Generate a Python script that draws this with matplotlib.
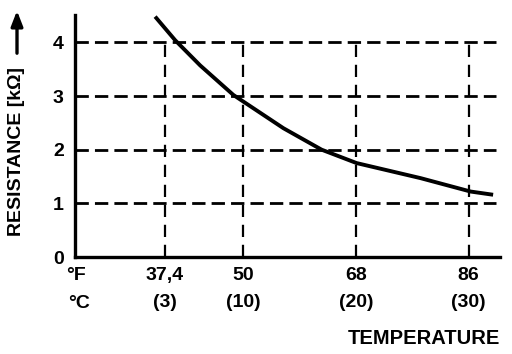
import matplotlib
matplotlib.use("Agg")
import matplotlib.pyplot as plt

# thermistor curve (deg F -> kOhm)
curve_f = [35.9, 39.1, 43.1, 48.4, 56.4, 62.5, 68.1, 78.3, 86.3, 89.9]
curve_r = [4.48, 4.04, 3.57, 3.02, 2.40, 2.0, 1.75, 1.47, 1.22, 1.16]

temp_f_ticks = [37.4, 50, 68, 86]
temp_f_labels = ["37,4", "50", "68", "86"]
temp_c_labels = ["(3)", "(10)", "(20)", "(30)"]
res_ticks = [0, 1, 2, 3, 4]
res_grid = [1, 2, 3, 4]

plt.rcParams['font.family'] = ['Liberation Sans', 'DejaVu Sans']
plt.rcParams['font.weight'] = 'bold'

fig = plt.figure(figsize=(5.12, 3.54), dpi=100)
ax = fig.add_axes([75 / 512, 97 / 354, 425 / 512, 242 / 354])

ax.set_xlim(23.1, 91.0)
ax.set_ylim(0, 4.51)

# dashed grid
ax.hlines(res_grid, 23.1, 90.3, colors='black', linewidth=2.0,
          linestyles=(0, (4.8, 2.2)))
ax.vlines(temp_f_ticks, 0, 4, colors='black', linewidth=1.6,
          linestyles=(0, (5.5, 3.5)))

ax.plot(curve_f, curve_r, color='black', linewidth=2.8,
        solid_capstyle='butt', solid_joinstyle='round')

for s in ['top', 'right']:
    ax.spines[s].set_visible(False)
for s in ['left', 'bottom']:
    ax.spines[s].set_linewidth(2.4)

ax.set_xticks([])
ax.set_yticks(res_ticks)
ax.set_yticklabels([str(v) for v in res_ticks], fontsize=14, fontweight='bold')
ax.tick_params(axis='y', length=0, pad=8)

trans = ax.get_xaxis_transform()
for f, lf, lc in zip(temp_f_ticks, temp_f_labels, temp_c_labels):
    ax.text(f, -0.075, lf, transform=trans, ha='center', va='center',
            fontsize=14, fontweight='bold')
    ax.text(f, -0.19, lc, transform=trans, ha='center', va='center',
            fontsize=14, fontweight='bold')

fig.text(76 / 512, 1 - 275 / 354, "°F", ha='center', va='center',
         fontsize=14, fontweight='bold')
fig.text(79 / 512, 1 - 304 / 354, "°C", ha='center', va='center',
         fontsize=14, fontweight='bold')
fig.text(500 / 512, 1 - 339 / 354, "TEMPERATURE", ha='right', va='center',
         fontsize=14.5, fontweight='bold')

fig.text(17 / 512, 1 - 151 / 354, "RESISTANCE [kΩ]", rotation=90,
         ha='center', va='center', fontsize=14, fontweight='bold')
fig.add_artist(matplotlib.patches.FancyArrowPatch(
    (17 / 512, 1 - 56 / 354), (17 / 512, 1 - 8 / 354),
    transform=fig.transFigure, arrowstyle='-|>,head_length=9,head_width=3.5',
    color='black', linewidth=2.4, mutation_scale=1))

fig.savefig("out.png", dpi=100)
